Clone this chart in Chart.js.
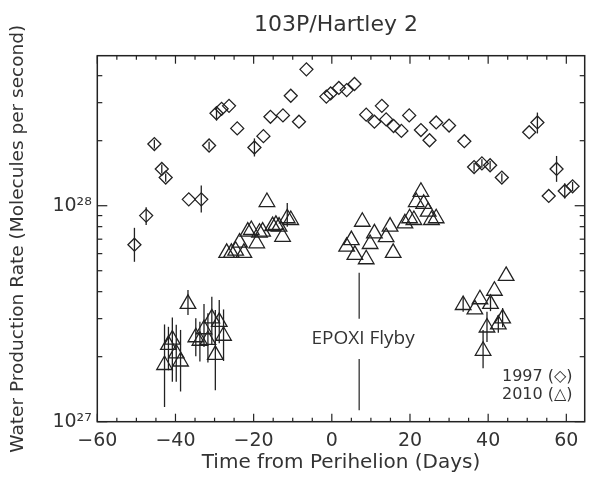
<!DOCTYPE html>
<html>
<head>
<meta charset="utf-8">
<title>103P/Hartley 2</title>
<script src="https://cdn.jsdelivr.net/npm/chart.js@4/dist/chart.umd.min.js"></script>
<style>
  html, body { margin: 0; padding: 0; background: #fff; }
  #wrap { width: 595px; height: 477px; position: relative; }
</style>
</head>
<body>
<div id="wrap"><canvas id="hartleyChart"></canvas></div>
<script>
// --- DATA ---
const chartTitle = '103P/Hartley 2';

// 1997 apparition (diamonds)
const days1997 = [
  -50.5, -47.5, -45.4, -43.5, -42.5, -36.6, -33.4, -31.4, -29.5, -28.2,
  -26.3, -24.2, -19.8, -17.5, -15.7, -12.5, -10.5, -8.4, -6.5, -1.4,
  -0.3, 1.8, 3.8, 5.8, 8.8, 10.9, 12.8, 13.9, 15.8, 17.8,
  19.8, 22.8, 25.0, 26.7, 30.0, 33.9, 36.4, 38.4, 40.5, 43.5,
  50.5, 52.6, 55.5, 57.5, 59.6, 61.6
];
const rate1997 = [
  6.6e27, 9.0e27, 1.93e28, 1.48e28, 1.35e28, 1.07e28, 1.07e28, 1.90e28, 2.68e28, 2.81e28,
  2.90e28, 2.28e28, 1.86e28, 2.10e28, 2.58e28, 2.62e28, 3.23e28, 2.45e28, 4.28e28, 3.20e28,
  3.31e28, 3.51e28, 3.43e28, 3.66e28, 2.64e28, 2.45e28, 2.90e28, 2.51e28, 2.34e28, 2.22e28,
  2.62e28, 2.24e28, 2.01e28, 2.43e28, 2.35e28, 1.99e28, 1.51e28, 1.57e28, 1.54e28, 1.35e28,
  2.19e28, 2.43e28, 1.11e28, 1.48e28, 1.17e28, 1.23e28
];
const errLo1997 = [
  5.5e27, 8.15e27, 1.84e28, 1.41e28, 1.29e28, null, 9.3e27, 1.82e28, 2.48e28, null,
  null, null, 1.69e28, null, null, null, null, null, null, null,
  null, null, null, null, null, null, null, null, null, null,
  null, null, null, null, null, null, 1.44e28, 1.50e28, 1.47e28, 1.29e28,
  null, 2.16e28, null, 1.29e28, 1.08e28, 1.17e28
];
const errHi1997 = [
  7.9e27, 9.85e27, 2.02e28, 1.55e28, 1.41e28, null, 1.24e28, 1.98e28, 2.87e28, null,
  null, null, 2.05e28, null, null, null, null, null, null, null,
  null, null, null, null, null, null, null, null, null, null,
  null, null, null, null, null, null, 1.58e28, 1.64e28, 1.61e28, 1.41e28,
  null, 2.70e28, null, 1.70e28, 1.27e28, 1.29e28
];

// 2010 apparition (triangles)
const days2010 = [
  -42.8, -41.8, -40.8, -39.8, -38.7, -36.8, -34.8, -33.75, -32.7, -31.7,
  -30.7, -29.8, -28.8, -27.7, -26.9, -25.7, -24.6, -23.6, -22.5, -21.5,
  -20.6, -19.2, -18.5, -17.7, -16.6, -15.15, -14.3, -13.5, -12.6, -11.4,
  -10.5, 3.8, 5.0, 5.9, 7.8, 8.8, 9.8, 10.9, 13.9, 14.9,
  15.7, 18.7, 19.9, 21.0, 21.6, 22.8, 23.5, 24.65, 25.5, 26.7,
  33.6, 36.6, 37.9, 38.7, 39.7, 40.6, 41.6, 42.6, 43.7, 44.6
];
const rate2010 = [
  1.83e27, 2.27e27, 2.40e27, 2.07e27, 1.90e27, 3.51e27, 2.46e27, 2.37e27, 2.68e27, 2.39e27,
  3.01e27, 2.04e27, 2.90e27, 2.50e27, 6.05e27, 6.05e27, 6.19e27, 6.75e27, 6.05e27, 7.59e27,
  7.72e27, 6.70e27, 7.50e27, 7.59e27, 1.04e28, 8.05e27, 8.15e27, 8.00e27, 7.18e27, 8.75e27,
  8.59e27, 6.46e27, 6.93e27, 5.92e27, 8.43e27, 5.65e27, 6.65e27, 7.45e27, 7.15e27, 8.00e27,
  6.05e27, 8.28e27, 8.75e27, 8.59e27, 1.04e28, 1.16e28, 1.02e28, 9.38e27, 8.59e27, 8.75e27,
  3.47e27, 3.31e27, 3.69e27, 2.13e27, 2.73e27, 3.51e27, 4.04e27, 2.82e27, 3.01e27, 4.73e27
];
const errLo2010 = [
  1.17e27, 1.73e27, 1.53e27, 1.53e27, 1.38e27, 3.12e27, 2.01e27, 1.90e27, 2.22e27, 1.88e27,
  2.27e27, 1.40e27, 2.31e27, 1.91e27, null, null, null, null, null, null,
  null, null, null, null, null, null, null, null, null, 8.0e27,
  null, null, null, null, null, null, null, null, null, null,
  null, null, null, null, null, null, null, null, null, null,
  3.23e27, null, null, 1.77e27, 2.34e27, 3.25e27, null, 2.58e27, 2.74e27, null
];
const errHi2010 = [
  2.82e27, 2.75e27, 3.04e27, 2.81e27, 2.66e27, 4.07e27, 3.01e27, 2.90e27, 3.51e27, 3.18e27,
  3.79e27, 3.29e27, 3.66e27, 3.31e27, null, null, null, null, null, null,
  null, null, null, null, null, null, null, null, null, 1.03e28,
  null, null, null, null, null, null, null, null, null, null,
  null, null, null, null, null, null, null, null, null, null,
  3.79e27, null, null, 2.66e27, 3.23e27, 3.80e27, null, 3.12e27, 3.36e27, null
];

// EPOXI flyby marker (null = gap around the label)
const flybyDay = 7;
const flybyRates = [4.9e27, 3.0e27, null, 1.95e27, 1.13e27];
const flybyLabel = 'EPOXI Flyby';
const flybyLabelAt = { x: 8, y: 2.43e27 };

// axes
const xMin = -60, xMax = 64.7;
const yMin = 1e27, yMax = 4.95e28;
const xTicks = [-60, -40, -20, 0, 20, 40, 60];
const xMinorTicks = [-55, -50, -45, -35, -30, -25, -15, -10, -5, 5, 10, 15, 25, 30, 35, 45, 50, 55];
const yTicks = [1e27, 1e28];
const yTickLabels = ['10\u00B2\u2077', '10\u00B2\u2078'];
const yMinorTicks = [2e27, 3e27, 4e27, 5e27, 6e27, 7e27, 8e27, 9e27, 2e28, 3e28, 4e28];

const legendLines = ['1997 (\u25C7)', '2010 (\u25B3)'];
const legendAt = { x: 61.6, y: [1.61e27, 1.33e27] };

const INK = '#222';
const TEXT = '#333';
const IDL_FONT = '"DejaVu Sans", sans-serif';

// --- HELPERS ---
function seg(ctx, x1, y1, x2, y2) {
    ctx.beginPath();
    ctx.moveTo(x1, y1);
    ctx.lineTo(x2, y2);
    ctx.stroke();
}

function drawErrors(ctx, x, y, days, lo, hi) {
    days.forEach((d, i) => {
        if (lo[i] == null || hi[i] == null) return;
        const px = x.getPixelForValue(d);
        seg(ctx, px, y.getPixelForValue(lo[i]), px, y.getPixelForValue(hi[i]));
    });
}

const decorPlugin = {
    id: 'decor',
    afterDatasetsDraw(chart) {
        const { ctx, chartArea: a, scales: { x, y } } = chart;
        ctx.save();
        ctx.strokeStyle = INK;
        ctx.lineWidth = 1.3;
        drawErrors(ctx, x, y, days1997, errLo1997, errHi1997);
        drawErrors(ctx, x, y, days2010, errLo2010, errHi2010);

        // frame + ticks on all four sides
        ctx.lineWidth = 1.5;
        ctx.strokeRect(a.left, a.top, a.right - a.left, a.bottom - a.top);
        ctx.lineWidth = 1.2;
        xTicks.forEach(v => {
            const px = x.getPixelForValue(v);
            seg(ctx, px, a.bottom, px, a.bottom - 8);
            seg(ctx, px, a.top, px, a.top + 8);
        });
        xMinorTicks.forEach(v => {
            const px = x.getPixelForValue(v);
            seg(ctx, px, a.bottom, px, a.bottom - 4);
            seg(ctx, px, a.top, px, a.top + 4);
        });
        yTicks.forEach(v => {
            const py = y.getPixelForValue(v);
            seg(ctx, a.left, py, a.left + 10, py);
            seg(ctx, a.right, py, a.right - 10, py);
        });
        yMinorTicks.forEach(v => {
            const py = y.getPixelForValue(v);
            seg(ctx, a.left, py, a.left + 5, py);
            seg(ctx, a.right, py, a.right - 5, py);
        });

        // texts
        ctx.fillStyle = TEXT;
        ctx.textBaseline = 'middle';
        ctx.textAlign = 'center';
        ctx.font = '22px ' + IDL_FONT;
        ctx.fillText(chartTitle, 336, 25);

        ctx.font = '500 19px "Open Sans", sans-serif';
        ctx.fillText(flybyLabel, x.getPixelForValue(flybyLabelAt.x), y.getPixelForValue(flybyLabelAt.y));

        ctx.textAlign = 'right';
        ctx.font = '16px ' + IDL_FONT;
        legendLines.forEach((t, i) => {
            ctx.fillText(t, x.getPixelForValue(legendAt.x), y.getPixelForValue(legendAt.y[i]));
        });
        ctx.restore();
    }
};

// --- CHART ---
function renderChart() {
    const ctx = document.getElementById('hartleyChart');
    new Chart(ctx, {
        type: 'scatter',
        data: {
            datasets: [
                {
                    label: '1997',
                    data: days1997.map((d, i) => ({ x: d, y: rate1997[i] })),
                    pointStyle: 'rectRot',
                    pointRadius: 6.5,
                    borderColor: INK,
                    backgroundColor: 'rgba(0,0,0,0)',
                    borderWidth: 1.3
                },
                {
                    label: '2010',
                    data: days2010.map((d, i) => ({ x: d, y: rate2010[i] })),
                    pointStyle: 'triangle',
                    pointRadius: 9,
                    borderColor: INK,
                    backgroundColor: 'rgba(0,0,0,0)',
                    borderWidth: 1.3
                },
                {
                    label: 'EPOXI',
                    type: 'line',
                    data: flybyRates.map(v => ({ x: flybyDay, y: v })),
                    borderColor: TEXT,
                    borderWidth: 1.3,
                    pointRadius: 0,
                    spanGaps: false
                }
            ]
        },
        options: {
            responsive: true,
            maintainAspectRatio: false,
            animation: false,
            layout: { padding: { top: 55.7, right: 3.3, left: 0, bottom: 0 } },
            plugins: { legend: { display: false }, tooltip: { enabled: false } },
            scales: {
                x: {
                    type: 'linear',
                    min: xMin,
                    max: xMax,
                    afterBuildTicks: s => { s.ticks = xTicks.map(v => ({ value: v })); },
                    afterFit: s => { s.height = 55.3; },
                    grid: { display: false, drawTicks: false },
                    border: { display: false },
                    ticks: {
                        color: TEXT,
                        padding: 8,
                        maxRotation: 0,
                        font: { family: IDL_FONT, size: 19 },
                        callback: v => v < 0 ? '\u2212' + (-v) : String(v)
                    },
                    title: {
                        display: true,
                        text: 'Time from Perihelion (Days)',
                        color: TEXT,
                        font: { family: IDL_FONT, size: 20 },
                        padding: { top: 0, bottom: 2 }
                    }
                },
                y: {
                    type: 'logarithmic',
                    min: yMin,
                    max: yMax,
                    afterBuildTicks: s => { s.ticks = yTicks.map(v => ({ value: v })); },
                    afterFit: s => { s.width = 97.3; },
                    grid: { display: false, drawTicks: false },
                    border: { display: false },
                    ticks: {
                        color: TEXT,
                        padding: 5.5,
                        font: { family: IDL_FONT, size: 19 },
                        callback: v => yTickLabels[yTicks.indexOf(v)] || ''
                    },
                    title: {
                        display: true,
                        text: 'Water Production Rate (Molecules per second)',
                        color: TEXT,
                        font: { family: IDL_FONT, size: 18.5 },
                        padding: { top: 7, bottom: 0 }
                    }
                }
            }
        },
        plugins: [decorPlugin]
    });
}

document.addEventListener('DOMContentLoaded', renderChart);
</script>
</body>
</html>
